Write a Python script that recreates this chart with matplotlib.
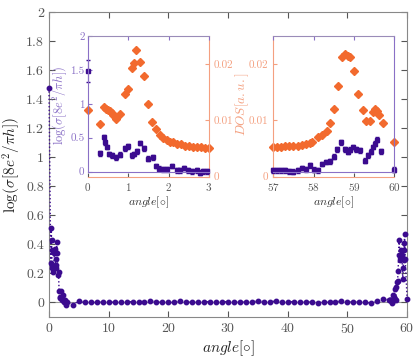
import matplotlib
matplotlib.use("Agg")
import matplotlib.pyplot as plt

plt.rcParams['font.family'] = 'serif'
plt.rcParams['font.serif'] = ['cmr10', 'DejaVu Serif']
plt.rcParams['mathtext.fontset'] = 'cm'
plt.rcParams['axes.formatter.use_mathtext'] = True

PURPLE = '#3b0b8f'
ORANGE = '#f26a2e'
PURPLE_SP = '#8a70c6'
ORANGE_SP = '#f4a080'
GRAY = '#555555'

# 0-3度付近の伝導度 (log)
left_x = [0.0, 0.30, 0.39, 0.43, 0.47, 0.53, 0.59, 0.69, 0.80, 0.91, 1.00, 1.10, 1.15, 1.21,
          1.29, 1.40, 1.48, 1.60, 1.69, 1.77, 1.87, 1.95, 2.08, 2.20, 2.28, 2.39, 2.49, 2.57,
          2.70, 2.78, 2.86, 2.94]
left_sig = [1.48, 0.27, 0.51, 0.43, 0.36, 0.26, 0.24, 0.21, 0.25, 0.34, 0.37, 0.24, 0.26, 0.30,
            0.42, 0.34, 0.19, 0.21, 0.08, 0.04, 0.03, 0.03, 0.08, 0.015, 0.015, 0.05, 0.015, 0.005,
            0.015, -0.015, 0.005, 0.005]
left_err = [0.16] + [0.035] * 31

# 0-3度付近のDOS
dos_l_x = [0.0, 0.29, 0.39, 0.45, 0.49, 0.55, 0.59, 0.63, 0.70, 0.80, 0.91, 1.00, 1.09, 1.13,
           1.20, 1.29, 1.39, 1.48, 1.58, 1.69, 1.79, 1.87, 1.95, 2.04, 2.1, 2.2, 2.3, 2.4, 2.5,
           2.6, 2.7, 2.8, 2.9, 3.0]
dos_l = [0.0119, 0.0094, 0.0123, 0.0120, 0.0119, 0.0117, 0.0113, 0.0110, 0.0103, 0.0111, 0.0146,
         0.0155, 0.0193, 0.0202, 0.0225, 0.0204, 0.0179, 0.0129, 0.0097, 0.0085, 0.0073, 0.0069,
         0.0065, 0.0062, 0.0061, 0.0058, 0.0057, 0.0055, 0.0054, 0.0053, 0.0052, 0.0052, 0.0051,
         0.0051]

# 4-56度 (整数角)
mid_x = list(range(4, 57))
mid_sig = [-0.015, 0.01, 0.0, 0.0, 0.0, 0.005, 0.005, 0.0, 0.0, 0.005, 0.005, 0.005, 0.005, 0.01,
           0.005, 0.0, 0.0, 0.0, 0.01, 0.0, 0.005, 0.0, 0.005, 0.005, 0.0, 0.005, 0.005, 0.005,
           0.0, 0.005, 0.005, 0.01, 0.005, 0.005, 0.01, 0.005, 0.005, 0.005, 0.005, 0.0, 0.005,
           -0.005, 0.005, 0.0, 0.005, 0.01, 0.005, 0.005, 0.005, 0.0, -0.005, 0.01, 0.025]

# 57-60度付近の伝導度
right_x = [57.0, 57.1, 57.2, 57.3, 57.39, 57.5, 57.6, 57.7, 57.8, 57.9, 58.0, 58.1, 58.2, 58.3,
           58.4, 58.5, 58.57, 58.67, 58.77, 58.84, 58.9, 58.98, 59.06, 59.15, 59.27, 59.35,
           59.41, 59.48, 59.52, 59.58, 59.68, 60.0]
right_sig = [0.015, 0.015, 0.02, 0.02, 0.005, -0.005, 0.015, 0.05, 0.035, 0.09, 0.025, 0.015, 0.11,
             0.14, 0.15, 0.22, 0.33, 0.43, 0.33, 0.29, 0.32, 0.36, 0.33, 0.31, 0.16, 0.24, 0.29,
             0.36, 0.41, 0.47, 0.30, 0.025]

# 57-60度付近のDOS
dos_r_x = [57.0, 57.1, 57.2, 57.3, 57.4, 57.5, 57.6, 57.7, 57.8, 57.9, 57.95, 58.12, 58.2, 58.33,
           58.4, 58.5, 58.6, 58.7, 58.78, 58.84, 58.9, 59.0, 59.1, 59.22, 59.3, 59.4, 59.47,
           59.53, 59.57, 59.63, 59.72, 60.0]
dos_r = [0.0052, 0.0053, 0.0053, 0.0054, 0.0054, 0.0055, 0.0055, 0.0056, 0.0057, 0.0059, 0.0062,
         0.0070, 0.0074, 0.0081, 0.0096, 0.0120, 0.0161, 0.0212, 0.0218, 0.0215, 0.0212, 0.0187,
         0.0147, 0.0118, 0.0098, 0.0098, 0.0115, 0.0120, 0.0116, 0.0110, 0.0095, 0.0061]

main_x = left_x + mid_x + right_x
main_sig = left_sig + mid_sig + right_sig

fig = plt.figure(figsize=(4.15, 3.57), dpi=100)

ax = fig.add_axes([0.118, 0.112, 0.863, 0.854])
ax.axhline(0, color='#999999', lw=0.8, zorder=0)
ax.plot(main_x, main_sig, ls=':', lw=1.0, color=PURPLE, marker='o', ms=3.2, mec=PURPLE,
        mfc=PURPLE, clip_on=False, zorder=5)
ax.set_xlim(0, 60)
ax.set_ylim(-0.1, 2)
ax.set_xticks([0, 10, 20, 30, 40, 50, 60])
ax.set_yticks([0, 0.2, 0.4, 0.6, 0.8, 1, 1.2, 1.4, 1.6, 1.8, 2])
ax.set_yticklabels(['0', '0.2', '0.4', '0.6', '0.8', '1', '1.2', '1.4', '1.6', '1.8', '2'])
ax.tick_params(direction='in', top=True, right=True, labelsize=10, colors=GRAY, length=4)
for s in ax.spines.values():
    s.set_color('#888888')
ax.set_xlabel(r'$angle[\circ]$', fontsize=11, color='#222222', labelpad=2)
ax.set_ylabel(r'$\log(\sigma[8e^2/\pi h])$', fontsize=11, color='#222222', labelpad=2)


def make_inset(left, xlim, xticks, dos_x, dos_y, sig_x, sig_y, sig_err, side):
    w = 0.2916
    axo = fig.add_axes([left, 0.5056, w, 0.3936])
    axp = fig.add_axes([left, 0.5196, w, 0.3796])
    axp.patch.set_alpha(0)
    axo.plot(dos_x, dos_y, ls='none', marker='D', ms=3.6, color=ORANGE, clip_on=False)
    axp.errorbar(sig_x, sig_y, yerr=sig_err, ls='none', marker='s', ms=2.6, color=PURPLE,
                 elinewidth=0.8, capsize=1.2, clip_on=False)
    axo.set_xlim(*xlim)
    axp.set_xlim(*xlim)
    axo.set_ylim(0, 0.025)
    axp.set_ylim(0, 2)
    axo.set_xticks(xticks)
    axo.set_yticks([0, 0.01, 0.02])
    axo.set_yticklabels(['0', '0.01', '0.02'])
    axp.set_xticks(xticks)
    axp.set_xticklabels([])
    axp.set_yticks([0, 0.5, 1, 1.5, 2])
    axp.set_yticklabels(['0', '0.5', '1', '1.5', '2'])
    axo.tick_params(axis='x', direction='in', labelsize=8, colors=GRAY, length=3)
    axp.tick_params(axis='x', direction='in', top=True, bottom=False, length=3, colors=PURPLE_SP)
    for s in axo.spines.values():
        s.set_visible(False)
    for s in axp.spines.values():
        s.set_visible(False)
    axo.spines['bottom'].set_visible(True)
    axo.spines['bottom'].set_color(ORANGE_SP)
    axp.spines['bottom'].set_visible(True)
    axp.spines['bottom'].set_color(PURPLE_SP)
    axp.spines['top'].set_visible(True)
    axp.spines['top'].set_color('#9a8cb8')
    if side == 'left':
        axp.yaxis.set_ticks_position('left')
        axp.spines['left'].set_visible(True)
        axp.spines['left'].set_color(PURPLE_SP)
        axp.tick_params(axis='y', direction='in', labelsize=8, colors=PURPLE_SP, length=3, pad=2.5)
        axo.yaxis.tick_right()
        axo.spines['right'].set_visible(True)
        axo.spines['right'].set_color(ORANGE_SP)
        axo.tick_params(axis='y', direction='in', labelsize=8, colors=ORANGE_SP, length=3)
    else:
        axp.yaxis.tick_right()
        axp.spines['right'].set_visible(True)
        axp.spines['right'].set_color(PURPLE_SP)
        axp.tick_params(axis='y', direction='in', labelright=False, length=0)
        axo.yaxis.tick_left()
        axo.spines['left'].set_visible(True)
        axo.spines['left'].set_color(ORANGE_SP)
        axo.tick_params(axis='y', direction='in', labelsize=8, colors=ORANGE_SP, length=3)
    axo.set_xlabel(r'$angle[\circ]$', fontsize=8.5, color='#333333', labelpad=1)
    return axo, axp


make_inset(0.212, (0, 3), [0, 1, 2, 3], dos_l_x, dos_l, left_x, left_sig, left_err, 'left')
make_inset(0.6586, (57, 60), [57, 58, 59, 60], dos_r_x, dos_r, right_x, right_sig, 0.035, 'right')

# インセットの縦軸ラベル
fig.text(0.143, 0.706, r'$\log(\sigma[8e^2/\pi h])$', fontsize=9, color=PURPLE_SP,
         rotation=90, ha='center', va='center')
fig.text(0.583, 0.709, r'$DOS[a.u.]$', fontsize=9.5, color=ORANGE_SP,
         rotation=90, ha='center', va='center')

fig.savefig('out.png', dpi=100)
